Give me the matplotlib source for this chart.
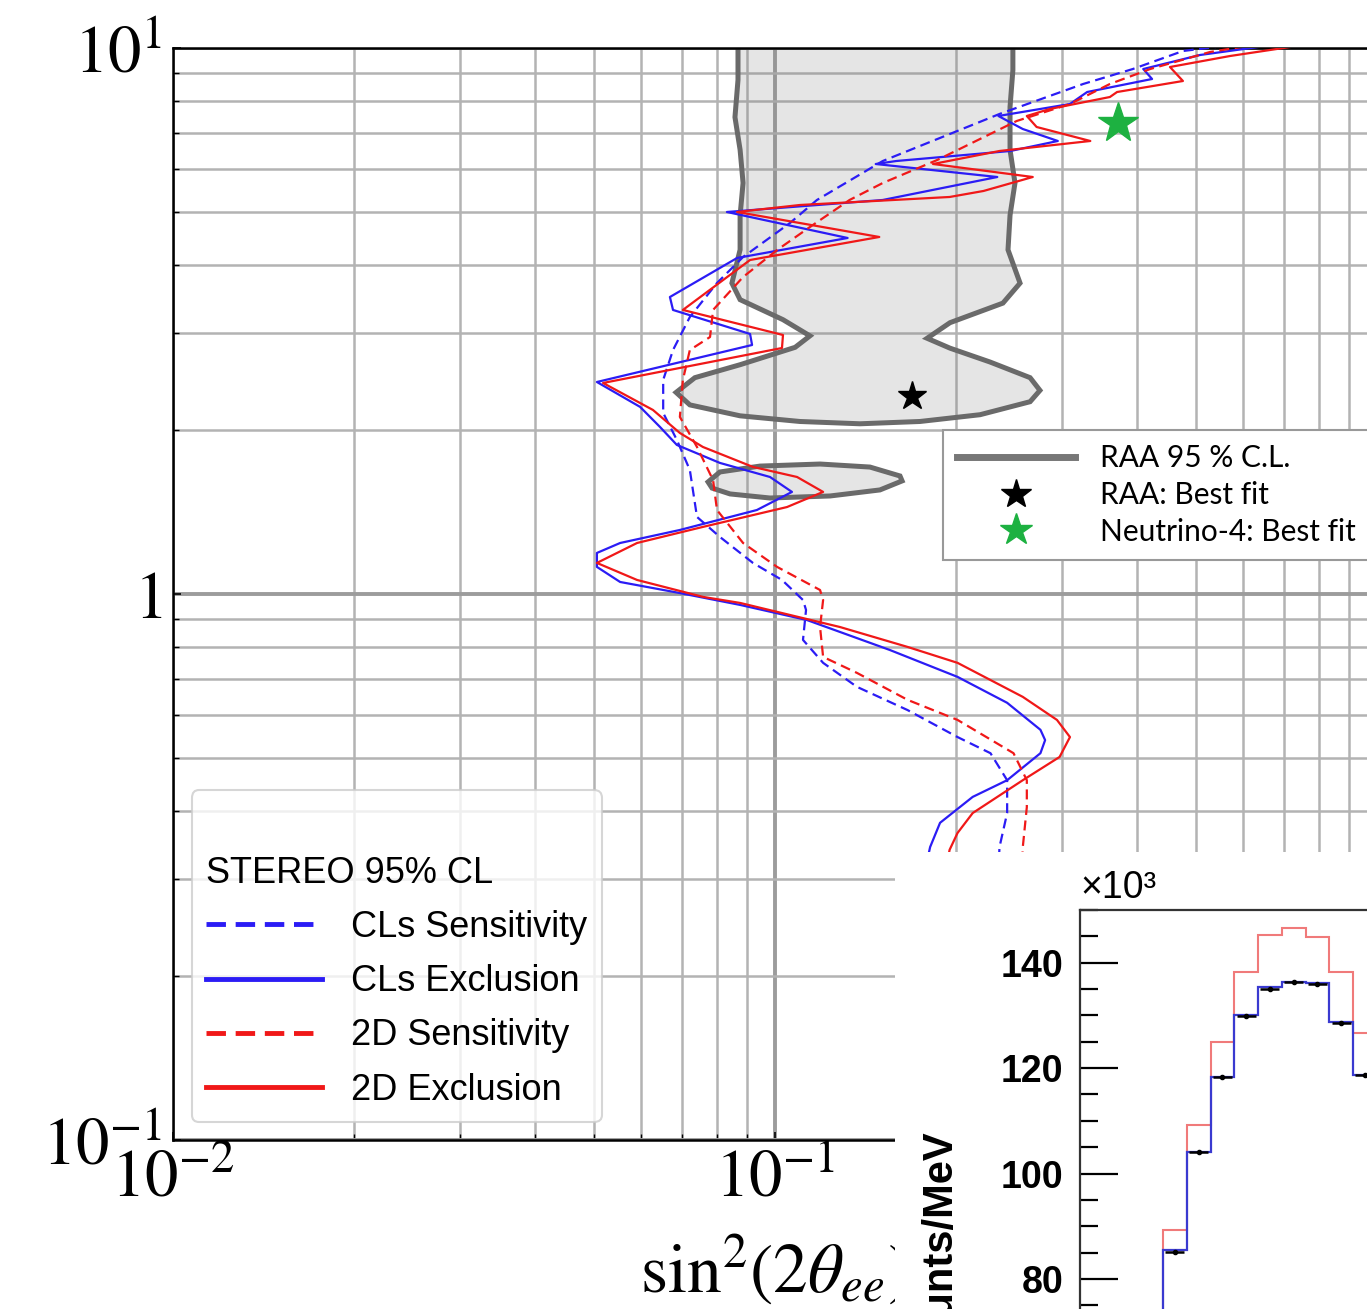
import numpy as np
import matplotlib
matplotlib.use("Agg")
import matplotlib.pyplot as plt
from matplotlib.lines import Line2D
from matplotlib.ticker import FixedLocator, LogLocator, NullFormatter, MultipleLocator

plt.rcParams["mathtext.fontset"] = "stix"
plt.rcParams["font.family"] = ["Liberation Sans", "DejaVu Sans"]

# RAA 95% C.L. allowed region (sin^2(2theta), dm^2)
raa_x = [0.0868, 0.0868, 0.0858, 0.0875, 0.0885, 0.0875, 0.0875, 0.0848, 0.0875, 0.1031,
         0.1143, 0.1080, 0.0875, 0.0736, 0.0685, 0.0722, 0.0875, 0.1100, 0.1384, 0.1741,
         0.2191, 0.2653, 0.2755, 0.2653, 0.2276, 0.1953, 0.1789, 0.1953, 0.2391, 0.2553,
         0.2438, 0.2457, 0.2504, 0.2457, 0.2457, 0.2484, 0.2484]
raa_y = [12.0, 8.74, 7.47, 6.51, 5.66, 4.94, 4.27, 3.71, 3.46, 3.18,
         2.97, 2.83, 2.63, 2.49, 2.34, 2.22, 2.12, 2.07, 2.05, 2.07,
         2.13, 2.25, 2.36, 2.49, 2.66, 2.82, 2.94, 3.14, 3.41, 3.71,
         4.27, 4.94, 5.66, 6.51, 7.80, 9.11, 12.0]
raa_island_x = [0.0774, 0.0810, 0.0944, 0.1188, 0.1438, 0.1613, 0.1626, 0.1494, 0.1235, 0.0981, 0.0842, 0.0786]
raa_island_y = [1.604, 1.673, 1.715, 1.730, 1.708, 1.645, 1.611, 1.551, 1.512, 1.499, 1.525, 1.563]

raa_best_x, raa_best_y = [0.169], [2.30]
n4_best_x, n4_best_y = [0.371], [7.29]

# STEREO 95% CL curves
cls_sens_x = [0.592, 0.476, 0.393, 0.325, 0.236, 0.151, 0.1174, 0.1059, 0.0885, 0.0801,
              0.0722, 0.0677, 0.0652, 0.0652, 0.0687, 0.0722, 0.0742, 0.0810, 0.0919, 0.1027,
              0.1113, 0.1126, 0.1113, 0.1202, 0.1368, 0.166, 0.201, 0.228, 0.243, 0.243,
              0.236, 0.235]
cls_sens_y = [10.17, 9.874, 9.152, 8.592, 7.571, 6.209, 5.268, 4.781, 4.142, 3.712,
              3.216, 2.798, 2.466, 2.146, 1.915, 1.687, 1.384, 1.272, 1.140, 1.061,
              0.975, 0.935, 0.824, 0.748, 0.676, 0.613, 0.547, 0.511, 0.456, 0.397,
              0.344, 0.312]

cls_exc_x = [0.690, 0.508, 0.409, 0.423, 0.330, 0.309, 0.235, 0.258, 0.295, 0.246,
             0.159, 0.147, 0.234, 0.151, 0.0832, 0.132, 0.0865, 0.0669, 0.0677, 0.0909,
             0.0916, 0.0506, 0.0597, 0.0644, 0.0687, 0.0810, 0.0981, 0.1067, 0.0933, 0.0695,
             0.0553, 0.0506, 0.0506, 0.0553, 0.0695, 0.0875, 0.1130, 0.155, 0.201, 0.243,
             0.276, 0.281, 0.276, 0.243, 0.213, 0.188, 0.181, 0.1775]
cls_exc_y = [10.17, 9.709, 9.152, 8.775, 8.306, 7.897, 7.507, 7.106, 6.756, 6.477,
             6.209, 6.131, 5.804, 5.268, 5.008, 4.488, 4.125, 3.499, 3.313, 2.994,
             2.858, 2.445, 2.201, 2.023, 1.875, 1.738, 1.638, 1.538, 1.425, 1.310,
             1.240, 1.189, 1.121, 1.052, 1.004, 0.955, 0.896, 0.790, 0.705, 0.632,
             0.564, 0.540, 0.511, 0.456, 0.425, 0.381, 0.344, 0.312]

d2_sens_x = [0.639, 0.528, 0.420, 0.360, 0.309, 0.252, 0.186, 0.151, 0.133, 0.1143,
             0.1008, 0.0885, 0.0789, 0.0780, 0.0722, 0.0703, 0.0695, 0.0742, 0.0789, 0.0801,
             0.0885, 0.1008, 0.1188, 0.1202, 0.1188, 0.1202, 0.1368, 0.166, 0.201, 0.249,
             0.262, 0.262, 0.258, 0.257]
d2_sens_y = [10.17, 9.833, 9.152, 8.592, 7.897, 7.350, 6.236, 5.659, 5.268, 4.701,
             4.266, 3.807, 3.313, 2.956, 2.798, 2.466, 2.110, 1.859, 1.617, 1.425,
             1.240, 1.121, 1.017, 0.975, 0.870, 0.767, 0.717, 0.640, 0.588, 0.511,
             0.456, 0.407, 0.344, 0.312]

d2_exc_x = [0.774, 0.570, 0.453, 0.476, 0.370, 0.360, 0.286, 0.262, 0.272, 0.334,
            0.236, 0.183, 0.268, 0.222, 0.195, 0.110, 0.0865, 0.149, 0.0909, 0.0703,
            0.1031, 0.1027, 0.0518, 0.0627, 0.0695, 0.0759, 0.0919, 0.1088, 0.1202, 0.1047,
            0.0759, 0.0590, 0.0506, 0.0590, 0.0759, 0.0875, 0.1282, 0.166, 0.201, 0.258,
            0.294, 0.309, 0.297, 0.258, 0.213, 0.201, 0.195, 0.192]
d2_exc_y = [10.17, 9.668, 9.230, 8.701, 8.306, 8.133, 7.732, 7.507, 7.167, 6.756,
            6.477, 6.131, 5.804, 5.472, 5.335, 5.158, 5.008, 4.507, 4.090, 3.313,
            2.981, 2.822, 2.435, 2.173, 1.972, 1.859, 1.709, 1.638, 1.538, 1.443,
            1.327, 1.240, 1.140, 1.061, 0.988, 0.963, 0.870, 0.800, 0.748, 0.648,
            0.588, 0.547, 0.503, 0.456, 0.397, 0.365, 0.340, 0.312]

# inset spectrum (x10^3 counts/MeV)
spec_edges = [1.625, 1.875, 2.125, 2.375, 2.625, 2.875, 3.125, 3.375, 3.625, 3.875, 4.125]
spec_pred = [68.0, 89.3, 109.2, 125.0, 138.3, 145.3, 146.5, 144.9, 138.3, 126.6]
spec_fit = [64.0, 85.5, 104.1, 118.4, 130.0, 135.4, 136.4, 136.1, 128.7, 118.7]
spec_data = [64.0, 85.1, 104.0, 118.4, 129.9, 135.0, 136.4, 136.0, 128.6, 118.7]

BLUE = "#2b1cf5"
RED = "#f01818"
GRAY = "#6a6a6a"
GREEN = "#1db141"

fig = plt.figure(figsize=(13.67, 13.09), dpi=100)
ax = fig.add_axes([0.12656, 0.12911, 0.88076, 0.83422])
ax.set_xscale("log")
ax.set_yscale("log")
ax.set_xlim(0.01, 1)
ax.set_ylim(0.1, 10)

ax.xaxis.set_major_locator(FixedLocator([0.01, 0.1, 1]))
ax.xaxis.set_minor_locator(LogLocator(base=10, subs=np.arange(2, 10)))
ax.xaxis.set_minor_formatter(NullFormatter())
ax.set_xticklabels([r"$10^{-2}$", r"$10^{-1}$", r"$10^{0}$"])
ax.yaxis.set_major_locator(FixedLocator([0.1, 1, 10]))
ax.yaxis.set_minor_locator(LogLocator(base=10, subs=np.arange(2, 10)))
ax.yaxis.set_minor_formatter(NullFormatter())
ax.set_yticklabels([r"$10^{-1}$", r"$1$", r"$10^{1}$"])
ax.tick_params(which="both", direction="in", labelsize=48, color="k")
ax.tick_params(which="major", length=6, width=1.2)
ax.tick_params(which="minor", length=4, width=1.0)
ax.tick_params(axis="y", pad=8)
ax.tick_params(axis="x", pad=6)

ax.set_axisbelow(True)
ax.grid(which="major", color="#9c9c9c", lw=2.8)
ax.grid(which="minor", color="#b3b3b3", lw=1.8)
for s in ax.spines.values():
    s.set_linewidth(1.8)
    s.set_color("black")

ax.set_xlabel(r"$\mathrm{sin}^2(2\theta_{ee})$", fontsize=50)
ax.xaxis.set_label_coords(0.5, -0.085)

# RAA region
ax.fill(raa_x, raa_y, facecolor=(0.5, 0.5, 0.5, 0.2), edgecolor=GRAY, lw=3.6, zorder=2)
ax.fill(raa_island_x, raa_island_y, facecolor=(0.5, 0.5, 0.5, 0.2), edgecolor=GRAY, lw=3.6, zorder=2)

# STEREO curves
ax.plot(cls_sens_x, cls_sens_y, color=BLUE, ls=(0, (4.5, 2.5)), lw=1.6, zorder=3)
ax.plot(cls_exc_x, cls_exc_y, color=BLUE, lw=1.6, zorder=3)
ax.plot(d2_sens_x, d2_sens_y, color=RED, ls=(0, (4.5, 2.5)), lw=1.6, zorder=3)
ax.plot(d2_exc_x, d2_exc_y, color=RED, lw=1.6, zorder=3)

ax.plot(raa_best_x, raa_best_y, ls="none", marker="*", ms=21, color="k", zorder=4)
ax.plot(n4_best_x, n4_best_y, ls="none", marker="*", ms=30, color=GREEN, zorder=4)

# STEREO legend
h1 = [Line2D([], [], color=BLUE, ls=(0, (4, 2)), lw=3.5),
      Line2D([], [], color=BLUE, lw=3.5),
      Line2D([], [], color=RED, ls=(0, (4, 2)), lw=3.5),
      Line2D([], [], color=RED, lw=3.5)]
l1 = ["CLs Sensitivity", "CLs Exclusion", "2D Sensitivity", "2D Exclusion"]
leg1 = ax.legend(h1, l1, title="\nSTEREO 95% CL", loc="lower left",
                 bbox_to_anchor=(0.0158, 0.0165), borderaxespad=0,
                 fontsize=26, title_fontsize=26, handlelength=3.2,
                 handletextpad=0.8, labelspacing=0.53, alignment="left",
                 fancybox=True, framealpha=0.8, edgecolor="#cccccc", borderpad=0.4)
leg1.get_frame().set_linewidth(1.5)
leg1.get_title().set_linespacing(1.6)
ax.add_artist(leg1)

# RAA legend
h2 = [Line2D([], [], color="#777777", lw=5),
      Line2D([], [], ls="none", marker="*", ms=22, color="k"),
      Line2D([], [], ls="none", marker="*", ms=24, color=GREEN)]
l2 = ["RAA 95 % C.L.", "RAA: Best fit", "Neutrino-4: Best fit"]
leg2 = ax.legend(h2, l2, loc="upper left", bbox_to_anchor=(0.6395, 0.0, 0.40, 0.6502),
                 mode="expand", borderaxespad=0, prop={"family": "Lato", "size": 21.5},
                 handlelength=3.95, handletextpad=0.84, labelspacing=0.3,
                 fancybox=False, framealpha=1, edgecolor="#999999", borderpad=0.47)
leg2.get_frame().set_linewidth(1.5)

# inset panel
bg = fig.add_axes([0.65472, 0.0, 0.36, 0.34912])
bg.set_xticks([])
bg.set_yticks([])
for s in bg.spines.values():
    s.set_visible(False)
bg.set_facecolor("white")
bg.set_zorder(5)

ins = fig.add_axes([0.79005, 0.0, 0.6, 0.30481])
ins.set_zorder(6)
ins.set_xlim(1.0, 1.0 + 0.6 * 1367 / 95)
ins.set_ylim(74.3, 150)
ins.stairs(spec_pred, spec_edges, baseline=None, color="#f07a7a", lw=1.5)
ins.stairs(spec_fit, spec_edges, baseline=None, color="#3a3ad0", lw=1.6)
centers = [(a + b) / 2 for a, b in zip(spec_edges[:-1], spec_edges[1:])]
ins.errorbar(centers, spec_data, xerr=0.1, yerr=0.35, fmt="o", ms=3, color="k",
             lw=1.8, capsize=0)
ins.set_xticks([])
ins.yaxis.set_major_locator(FixedLocator([80, 100, 120, 140]))
ins.yaxis.set_minor_locator(MultipleLocator(5))
ins.set_yticklabels(["80", "100", "120", "140"], fontweight="bold")
ins.tick_params(axis="y", which="major", direction="in", length=27, width=1.6,
                pad=12, labelsize=27)
ins.tick_params(axis="y", which="minor", direction="in", length=13, width=1.6)
ins.spines["bottom"].set_visible(False)
ins.spines["right"].set_visible(False)
ins.spines["left"].set_linewidth(1.6)
ins.spines["top"].set_linewidth(1.6)
ins.spines["left"].set_color("#333333")
ins.spines["top"].set_color("#333333")

fig.text(1080 / 1367, 1 - 906 / 1309, "×10³", fontsize=27, ha="left", va="bottom", zorder=10)
fig.text(940 / 1367, 1 - 1130 / 1309, "Counts/MeV", rotation=90, ha="center", va="top",
         fontsize=30, fontweight="bold", zorder=10)

fig.savefig("out.png", dpi=100)
